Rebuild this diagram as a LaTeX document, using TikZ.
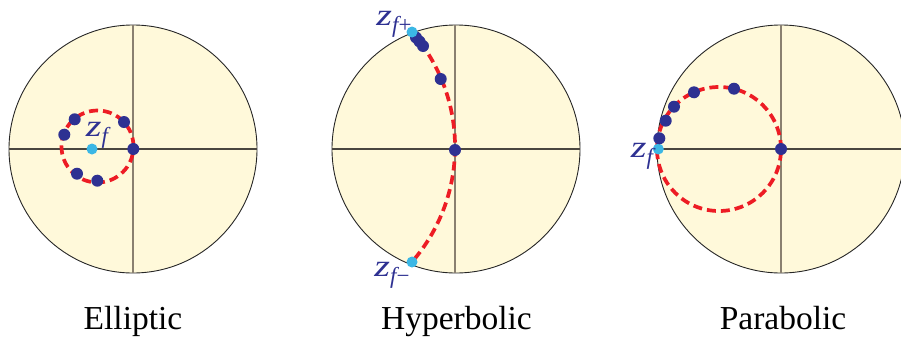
\documentclass[tikz,border=0pt]{standalone}
\usepackage{graphicx}
\usepackage{fontspec}
\setmainfont{Liberation Serif}[ItalicFont=Liberation Serif Italic]
\definecolor{diskfill}{HTML}{FFF9DA}
\definecolor{navy}{HTML}{2E3192}
\definecolor{cyanpt}{HTML}{3BB7E5}
\definecolor{redpath}{HTML}{ED1C24}
\definecolor{axisv}{HTML}{8A8070}
\definecolor{axish}{HTML}{4A463F}
\newcommand{\zlab}[1]{{\fontsize{31}{32}\selectfont\itshape\scalebox{1.3}[1]{z}}\raisebox{-7pt}{\fontsize{23}{24}\selectfont\itshape f\upshape#1}}
\tikzset{
  disk/.style={draw=black!85, line width=0.9pt, fill=diskfill},
  vaxis/.style={draw=axisv, line width=1.3pt},
  haxis/.style={draw=axish, line width=1.1pt},
  orbit/.style={draw=redpath, line width=3.7pt, dash pattern=on 9pt off 5pt},
  ndot/.style={circle, fill=navy, inner sep=0pt, minimum size=12pt},
  cdot/.style={circle, fill=cyanpt, inner sep=0pt, minimum size=11pt},
  zlabel/.style={text=navy, inner sep=0pt},
  title/.style={anchor=base, inner sep=0pt, font=\fontsize{33.5}{40}\selectfont}
}
\begin{document}
\begin{tikzpicture}[x=1pt,y=-1pt]
\useasboundingbox (0,0) rectangle (901,343);
\clip (0,0) rectangle (901,343);
% ---------- Elliptic ----------
\coordinate (c1) at (133,149);
\draw[disk] (c1) circle[radius=124pt];
\coordinate (c1t) at (133,25); \coordinate (c1b) at (133,273);
\coordinate (c1l) at (9,149);  \coordinate (c1r) at (257,149);
\draw[haxis] (c1l) -- (c1r);
\draw[vaxis] (c1t) -- (c1b);
\draw[orbit] (97.5,146.5) circle[radius=36pt];
\node[cdot] (ezf) at (92,149) {};
\node[ndot] (e1) at (133.3,149) {};
\node[ndot] (e2) at (124,122) {};
\node[ndot] (e3) at (74.7,119.3) {};
\node[ndot] (e4) at (64.3,134.7) {};
\node[ndot] (e5) at (77,173.7) {};
\node[ndot] (e6) at (97.3,180.7) {};
\node[zlabel] (ezl) at (97,135) {\zlab{}};
\node[title] (t1) at (133,329) {Elliptic};
% ---------- Hyperbolic ----------
\coordinate (c2) at (456,149);
\draw[disk] (c2) circle[radius=124pt];
\coordinate (c2t) at (455,25); \coordinate (c2b) at (455,273);
\coordinate (c2l) at (332,149); \coordinate (c2r) at (580,149);
\draw[haxis] (c2l) -- (c2r);
\draw[vaxis] (c2t) -- (c2b);
\coordinate (hp) at (412,32);
\coordinate (hm) at (412,262);
\draw[orbit] (hp) arc[start angle=41.06, end angle=-41.06, radius=175pt];
\node[ndot] (h1) at (455,150) {};
\node[ndot] (h2) at (440.7,79) {};
\node[ndot] (h3) at (423,46) {};
\node[ndot] (h4) at (419.5,41.5) {};
\node[ndot] (h5) at (416,37.5) {};
\node[cdot] (hzp) at (hp) {};
\node[cdot] (hzm) at (hm) {};
\node[zlabel] (hpl) at (394,24) {\zlab{+}};
\node[zlabel] (hml) at (392,275) {\zlab{−}};
\node[title] (t2) at (456.5,329) {Hyperbolic};
% ---------- Parabolic ----------
\coordinate (c3) at (781,149);
\draw[disk] (c3) circle[radius=124pt];
\coordinate (c3t) at (781,25); \coordinate (c3b) at (781,273);
\coordinate (c3l) at (657,149); \coordinate (c3r) at (905,149);
\draw[haxis] (c3l) -- (c3r);
\draw[vaxis] (c3t) -- (c3b);
\draw[orbit] (719,149) circle[radius=62pt];
\node[cdot] (pzf) at (658.3,149) {};
\node[ndot] (p1) at (781,149) {};
\node[ndot] (p2) at (734,88.7) {};
\node[ndot] (p3) at (694,92.3) {};
\node[ndot] (p4) at (674,106.7) {};
\node[ndot] (p5) at (665.7,120.7) {};
\node[ndot] (p6) at (659.3,138.3) {};
\node[zlabel] (pzl) at (642,156) {\zlab{}};
\node[title] (t3) at (783,329) {Parabolic};
\end{tikzpicture}
\end{document}
